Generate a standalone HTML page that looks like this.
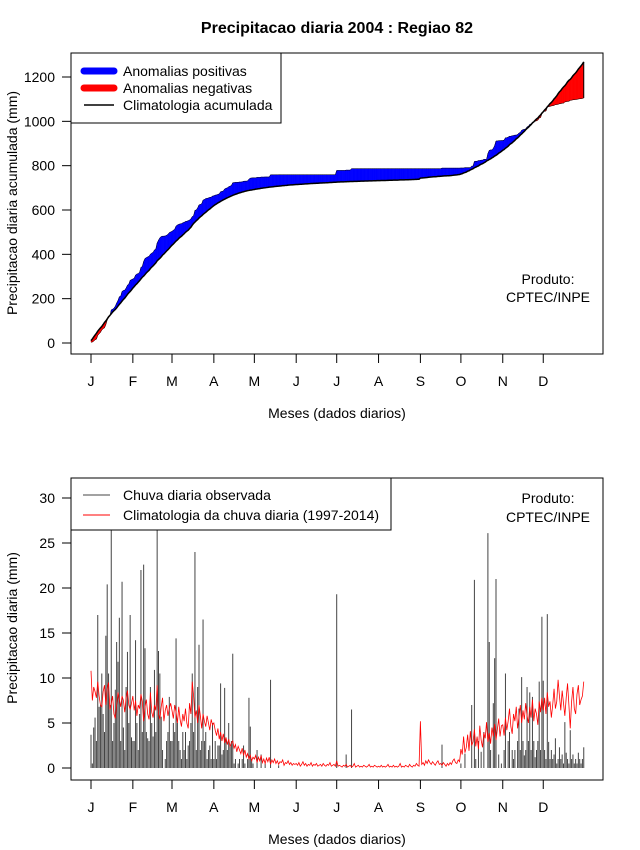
<!DOCTYPE html>
<html><head><meta charset="utf-8">
<style>
html,body{margin:0;padding:0;background:#fff;}
svg{display:block;font-family:"Liberation Sans",sans-serif;}
</style></head>
<body>
<svg id="chart" width="640" height="850" viewBox="0 0 640 850" xmlns="http://www.w3.org/2000/svg">
  <rect x="0" y="0" width="640" height="850" fill="#fff"/>
  <text x="337" y="33" text-anchor="middle" font-size="16" font-weight="bold">Precipitacao diaria 2004 : Regiao 82</text>
  <g id="top"></g>
  <g id="bot"></g>
</svg>
<script>
const monthLabels = ["J","F","M","A","M","J","J","A","S","O","N","D"];
const monthDays = [31,29,31,30,31,30,31,31,30,31,30,31];
const topTicks = [0,200,400,600,800,1000,1200];
const botTicks = [0,5,10,15,20,25,30];

const obsJan = [3.7,0.5,4.5,5.6,3,17,6.8,7,10.5,6,4,14.7,20.4,10.5,7,28,3,5,8.7,14,11.8,16.7,3,20.7,4.5,2,9,12.9,5,17,3.4];
const obsFeb = [3,3,14.2,5,2,6,22,4,22.6,13.3,4,3.3,3,9,5,3.5,10.9,4,27,13,10.5,5.7,2,0,1,3,4,7.9,3];
const obsMar = [3,5,4,14.4,5,3,2,1,4,2,4,1,2.5,3,5,10.5,4,24,2,9,13.7,2,3,16.5,3,4,1,2,2.5,1,5];
const obsApr = [1,3,1,2.5,2.5,9.4,1.5,2,8.9,3.2,2,5,2.5,3,12.7,0.5,1,0,0.5,1,0,1,2.5,0.5,0,1,7.8,4.6,1,0.5];
const obsMay = [0,0,2,0,0,1.5,0,0,0.5,0,0,0,9.8,0,0,0,0,0,0.3,0,0,0,0,0,0,0,0,0,0,0,0];
const obsJun = [0,0,0,0,0,0,0,0,0,0,0,0,0,0,0,0,0,0,0,0,0,0,0,0,0,0,0,0,0,0];
const obsJul = [19.3,0,0,0,0,0,0,1.5,0,0,0,6.5,0,0,0,0,0,0,0,0,0,0,0,0,0,0,0,0,0,0,0];
const obsAug = [0,0,0,0,0,0,0,0,0,0,0,0,0,0,0,0,0,0,0,0,0,0,0,0,0,0,0,0,0,0,0];
const obsSep = [0,0,0,0,0,0,0,0,0,0,0,0,0,0,0,0,2.6,0,0,0,0,0,0,0,0,0,0,0,0,0];
const obsOct = [0.5,0,0,1.6,0,0,0,0,7,0,20.9,1,0,3,0,1.8,0,4,0,0,26.1,14,2,0,7.2,12.2,21,0,1.5,0,0.5];
const obsNov = [0,2,10.5,0,3,4,0,2,1,2,0,3,6.6,2,10.1,3,1.4,2,9,3,8.4,2,7.9,3,1.2,2,3,9.6,2,16.8];
const obsDec = [9.7,2,1,17.1,2.9,1,2,1,1.5,3.3,0.5,1,2.3,1,1.5,0.5,5.1,1.7,1,0.5,4.2,1,1.5,0.5,1,0.5,1.7,1,0.5,1,2.3];

const cliJan = [10.8,7.5,9,8.5,7.8,9.6,8,7,6.8,8.5,9.2,7,8.8,9.5,6.5,7.2,8,6,5.5,7,8.4,7.6,6.8,8,7.5,6.2,7.8,8.6,7,6.5,7.2];
const cliFeb = [8,6.4,7.5,5.8,7,6.6,8.2,7.4,5.2,6.8,7.6,6,5.4,8.4,6.2,5.6,7,6.4,9.2,6,5.4,6.8,7.8,5.2,6.4,7,5.8,6.6,7.2];
const cliMar = [6.4,5.5,7,6.2,5,6.8,5.4,4.6,6,5.2,6.6,5,4.4,7.2,6,9.6,8,5.6,6.4,5,7,5.8,4.4,6,5.2,4.6,5.8,5,4.2,5.4,4.8];
const cliApr = [5,4.2,3.6,4.4,3.2,4,3,3.8,2.8,3.4,2.6,3.2,2.4,2.8,3,2.2,2.6,1.8,2.4,2,1.6,2.2,1.4,2,1.2,1.6,1,1.4,0.8,1.2];
const cliMay = [1,1.4,0.6,1.2,0.8,1.4,0.6,1,0.5,1.1,0.7,1.2,0.4,0.9,0.6,1,0.5,0.8,0.4,0.7,0.6,0.9,0.3,0.6,0.5,0.8,0.4,0.6,0.3,0.5,0.4];
const cliJun = [0.5,0.3,0.6,0.2,0.4,0.7,0.3,0.5,0.2,0.4,0.3,0.6,0.2,0.4,0.3,0.5,0.2,0.3,0.4,0.2,0.5,0.3,0.2,0.4,0.3,0.6,0.2,0.3,0.4,0.2];
const cliJul = [0.8,0.2,0.3,0.2,0.1,0.3,0.2,0.4,0.1,0.2,0.3,0.1,0.2,0.5,0.1,0.2,0.3,0.1,0.2,0.1,0.3,0.2,0.1,0.2,0.4,0.1,0.2,0.1,0.3,0.2,0.1];
const cliAug = [0.2,0.1,0.3,0.1,0.2,0.1,0.2,0.4,0.1,0.2,0.1,0.3,0.1,0.2,0.1,0.2,0.5,0.1,0.2,0.1,0.3,0.2,0.1,0.4,0.2,0.1,0.3,0.2,0.5,0.3,0.2];
const cliSep = [5.2,0.4,0.6,0.3,0.8,0.5,0.9,0.6,0.4,0.7,0.5,0.3,0.6,0.8,0.4,0.5,0.3,0.6,0.4,0.2,0.5,0.3,0.6,0.4,0.8,1,0.6,0.5,0.9,0.7];
const cliOct = [2.1,1.5,3.5,1.7,2.3,3.7,1.9,4.1,2.5,2.9,4.3,2.4,3.5,2.1,4.7,3.1,2.3,3.9,3.3,5.1,2.9,3.9,2.7,4.5,3.5,4.9,3.1,4.3,5.5,3.5,4.7];
const cliNov = [4.8,3.6,5.6,4.2,5.2,6.6,4.6,3.8,6,5.2,6.8,4.4,5.6,7,5,6.4,5.4,7.2,5.8,5,6.8,5.6,7.6,5.2,6.6,6,4.8,7.4,6.2,7.8];
const cliDec = [6.4,7.8,6,8.4,6.8,7.4,5.6,7,8.8,6.6,7.4,9.8,8,6.4,8.6,7.2,5.8,7.8,9.4,7,4.4,7.4,9,6.6,6,8.2,9.2,7,7.6,8,9.6];

const obs = [].concat(obsJan,obsFeb,obsMar,obsApr,obsMay,obsJun,obsJul,obsAug,obsSep,obsOct,obsNov,obsDec);
const cli = [].concat(cliJan,cliFeb,cliMar,cliApr,cliMay,cliJun,cliJul,cliAug,cliSep,cliOct,cliNov,cliDec);

const NS = "http://www.w3.org/2000/svg";
function mk(parent, tag, attrs, txt){
  const e = document.createElementNS(NS, tag);
  for (const k in attrs) e.setAttribute(k, attrs[k]);
  if (txt !== undefined) e.textContent = txt;
  parent.appendChild(e);
  return e;
}
const X0 = 91, DX = 1.35;
function xDay(i){ return X0 + i*DX; }
function yTop(v){ return 343 - v*(266/1200); }
function yBot(v){ return 768 - v*(270/30); }

function axes(g, top, bottom, ticks, yf, ytitle, ytitleY){
  let e;
  e = mk(g,'rect',{x:71,y:top,width:532,height:bottom-top,fill:'none',stroke:'#000','stroke-width':1});
   
  let d = 0;
  monthLabels.forEach((m,k)=>{
    const x = xDay(d);
    e = mk(g,'line',{x1:x,y1:bottom,x2:x,y2:bottom+9,stroke:'#000'});
     
    e = mk(g,'text',{x:x,y:bottom+32,'text-anchor':'middle','font-size':14},m);
     
    d += monthDays[k];
  });
  e = mk(g,'line',{x1:xDay(0),y1:bottom,x2:xDay(334),y2:bottom,stroke:'#000'});
   
  ticks.forEach(t=>{
    const y = yf(t);
    e = mk(g,'line',{x1:62,y1:y,x2:71,y2:y,stroke:'#000'});
     
    e = mk(g,'text',{x:55,y:y+5,'text-anchor':'end','font-size':14},String(t));
     
  });
  e = mk(g,'text',{x:337,y:bottom+64,'text-anchor':'middle','font-size':14},'Meses (dados diarios)');
   
  e = mk(g,'text',{x:0,y:0,'text-anchor':'middle','font-size':14,transform:'translate(17,'+ytitleY+') rotate(-90)'},ytitle);
   
}

// ---- Top panel ----
const gt = document.getElementById('top');
const co = [], cc = [];
let so = 0, sc = 0;
for (let i=0;i<obs.length;i++){ so += obs[i]; sc += cli[i]; co.push(so); cc.push(sc); }
for (let i=0;i<co.length-1;i++){
  const a = co[i]-cc[i], b = co[i+1]-cc[i+1];
  const col = (a+b)>=0 ? '#0000ff' : '#ff0000';
  const p = mk(gt,'polygon',{points:[xDay(i),yTop(co[i]),xDay(i+1),yTop(co[i+1]),xDay(i+1),yTop(cc[i+1]),xDay(i),yTop(cc[i])].join(' '),fill:col,stroke:col,'stroke-width':0.4});
  
  
}
let ptsO = co.map((v,i)=>xDay(i)+','+yTop(v)).join(' ');
let ptsC = cc.map((v,i)=>xDay(i)+','+yTop(v)).join(' ');
let e = mk(gt,'polyline',{points:ptsO,fill:'none',stroke:'#000','stroke-width':0.5});
 
e = mk(gt,'polyline',{points:ptsC,fill:'none',stroke:'#000','stroke-width':1.5});
 
e = mk(gt,'line',{x1:xDay(365),y1:yTop(co[365]),x2:xDay(365),y2:yTop(cc[365]),stroke:'#000','stroke-width':1});
 
axes(gt,53,354,topTicks,yTop,'Precipitacao diaria acumulada (mm)',203);

// top legend
const lt = mk(gt,'g',{});
 
e = mk(lt,'rect',{x:71,y:53,width:210,height:70,fill:'#fff',stroke:'#000'});
 
const topLeg = [['#0000ff',7,'Anomalias positivas'],['#ff0000',7,'Anomalias negativas'],['#000',1.5,'Climatologia acumulada']];
topLeg.forEach((l,k)=>{
  const y = 71 + k*17;
  const s = mk(lt,'line',{x1:84,y1:y,x2:114,y2:y,stroke:l[0],'stroke-width':l[1],'stroke-linecap':k<2?'round':'butt'});
   
  const t = mk(lt,'text',{x:123,y:y+5,'font-size':14},l[2]);
   
});
e = mk(gt,'text',{x:548,y:284,'text-anchor':'middle','font-size':14},'Produto:');
 
e = mk(gt,'text',{x:548,y:302,'text-anchor':'middle','font-size':14},'CPTEC/INPE');
 

// ---- Bottom panel ----
const gb = document.getElementById('bot');
obs.forEach((v,i)=>{
  if (v<=0) return;
  const b = mk(gb,'line',{x1:xDay(i),y1:yBot(0),x2:xDay(i),y2:yBot(v),stroke:'#444','stroke-width':1});
   
});
e = mk(gb,'polyline',{points:cli.map((v,i)=>xDay(i)+','+yBot(v)).join(' '),fill:'none',stroke:'#ff0000','stroke-width':0.8});
 
axes(gb,478,780,botTicks,yBot,'Precipitacao diaria (mm)',628);

const lb = mk(gb,'g',{});
 
e = mk(lb,'rect',{x:71,y:478,width:320,height:52,fill:'#fff',stroke:'#000'});
 
const botLeg = [['#444','Chuva diaria observada'],['#ff0000','Climatologia da chuva diaria (1997-2014)']];
botLeg.forEach((l,k)=>{
  const y = 495 + k*20;
  const s = mk(lb,'line',{x1:83,y1:y,x2:110,y2:y,stroke:l[0],'stroke-width':1});
   
  const t = mk(lb,'text',{x:123,y:y+5,'font-size':14},l[1]);
   
});
e = mk(gb,'text',{x:548,y:503,'text-anchor':'middle','font-size':14},'Produto:');
 
e = mk(gb,'text',{x:548,y:522,'text-anchor':'middle','font-size':14},'CPTEC/INPE');
 
</script>
</body></html>
